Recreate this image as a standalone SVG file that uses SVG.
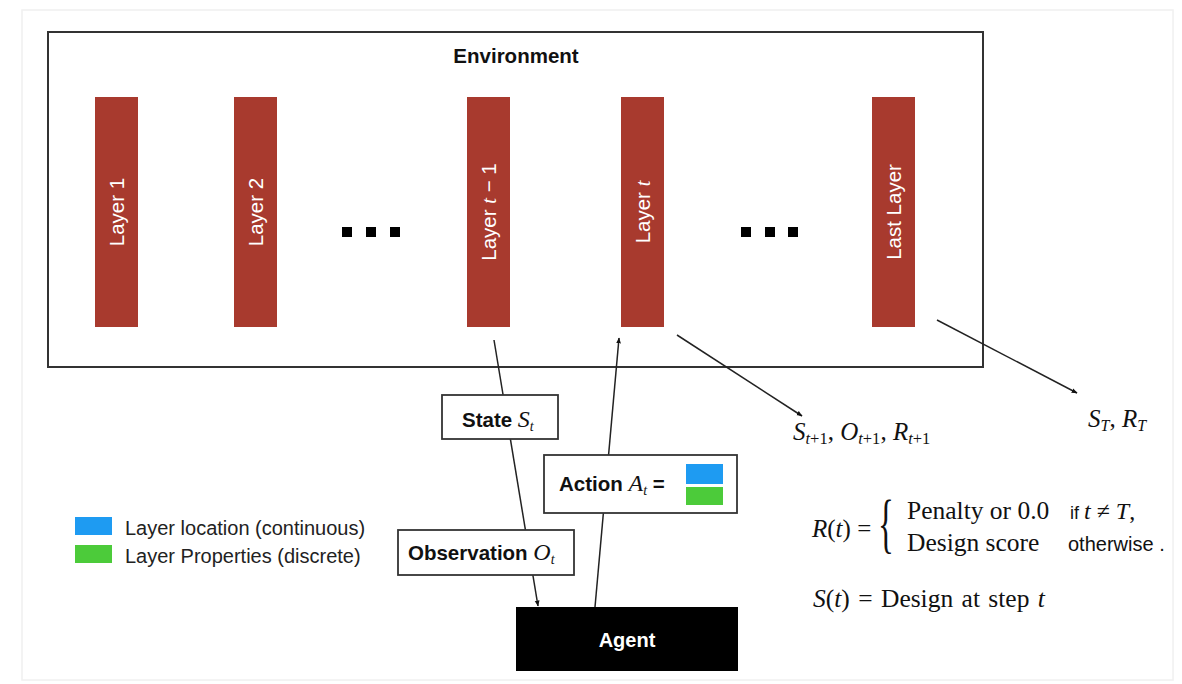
<svg xmlns="http://www.w3.org/2000/svg" width="1182" height="684" viewBox="0 0 1182 684">
<defs>
<style>
.sans{font-family:"Liberation Sans",Arial,sans-serif}
.serif{font-family:"Liberation Serif","Times New Roman",serif}
.b{font-weight:bold}
.it{font-style:italic}
.bar{fill:#a83a2e}
.lt{font-family:"Liberation Sans",Arial,sans-serif;font-size:20.5px;fill:#fff;text-anchor:middle}
.box{fill:#fff;stroke:#333;stroke-width:1.8}
.conn{stroke:#222;stroke-width:1.5;fill:none;marker-end:url(#ah)}
.dot{fill:#000}
</style>
<marker id="ah" viewBox="0 0 10 10" refX="9" refY="5" markerWidth="6" markerHeight="6" markerUnits="userSpaceOnUse" orient="auto">
<path d="M0,1 L10,5 L0,9 z" fill="#111"/>
</marker>
</defs>
<rect x="0" y="0" width="1182" height="684" fill="#fff"/>
<rect x="22" y="10" width="1151" height="670" fill="none" stroke="#f0f0f0" stroke-width="1.5"/>

<g id="environment">
<rect x="48" y="32" width="935" height="335" fill="#fff" stroke="#333" stroke-width="2"/>
<text x="516" y="63" text-anchor="middle" class="sans b" font-size="20.5" fill="#111">Environment</text>
</g>

<g id="layer1">
<rect class="bar" x="95" y="97" width="43" height="230"/>
<text class="lt" transform="translate(123.5,212) rotate(-90)">Layer 1</text>
</g>
<g id="layer2">
<rect class="bar" x="234" y="97" width="43" height="230"/>
<text class="lt" transform="translate(262.5,212) rotate(-90)">Layer 2</text>
</g>
<g id="dots1">
<rect class="dot" x="342" y="227" width="10" height="10"/>
<rect class="dot" x="366" y="227" width="10" height="10"/>
<rect class="dot" x="390" y="227" width="10" height="10"/>
</g>
<g id="layer-t-minus-1">
<rect class="bar" x="467" y="97" width="43" height="230"/>
<text class="lt" transform="translate(495.5,212) rotate(-90)">Layer <tspan class="serif it">t</tspan> − 1</text>
</g>
<g id="layer-t">
<rect class="bar" x="621" y="97" width="43" height="230"/>
<text class="lt" transform="translate(649.5,212) rotate(-90)">Layer <tspan class="serif it">t</tspan></text>
</g>
<g id="dots2">
<rect class="dot" x="741" y="227" width="10" height="10"/>
<rect class="dot" x="765" y="227" width="10" height="10"/>
<rect class="dot" x="788" y="227" width="10" height="10"/>
</g>
<g id="last-layer">
<rect class="bar" x="872" y="97" width="43" height="230"/>
<text class="lt" transform="translate(900.5,212) rotate(-90)">Last Layer</text>
</g>

<g id="connectors">
<line class="conn" x1="494" y1="340" x2="538" y2="606"/>
<line class="conn" x1="595" y1="607" x2="619" y2="338"/>
<line class="conn" x1="677" y1="335" x2="802" y2="416"/>
<line class="conn" x1="937" y1="320" x2="1077" y2="393"/>
</g>

<g id="state">
<rect class="box" x="442" y="395" width="116" height="44"/>
<text x="462" y="427" class="sans b" font-size="20.5" fill="#111">State <tspan class="serif it" font-weight="normal" font-size="24">S</tspan><tspan class="serif it" font-weight="normal" font-size="14" dy="4">t</tspan></text>
</g>

<g id="action">
<rect class="box" x="544" y="455" width="193" height="58"/>
<text x="559" y="491" class="sans b" font-size="20.5" fill="#111">Action <tspan class="serif it" font-weight="normal" font-size="24">A</tspan><tspan class="serif it" font-weight="normal" font-size="14" dy="4">t</tspan><tspan dy="-4"> =</tspan></text>
<rect x="686" y="464" width="37" height="20" fill="#1e9bf2"/>
<rect x="686" y="487" width="37" height="18" fill="#4ccb3a"/>
</g>

<g id="observation">
<rect class="box" x="398" y="530" width="176" height="45"/>
<text x="408" y="560" class="sans b" font-size="20.5" fill="#111">Observation <tspan class="serif it" font-weight="normal" font-size="24">O</tspan><tspan class="serif it" font-weight="normal" font-size="14" dy="4">t</tspan></text>
</g>

<g id="agent">
<rect x="516" y="607" width="222" height="64" fill="#000"/>
<text x="627" y="647" text-anchor="middle" class="sans b" font-size="20" fill="#fff">Agent</text>
</g>

<g id="legend">
<rect x="75" y="517" width="37" height="18" fill="#1e9bf2"/>
<rect x="75" y="545" width="37" height="18" fill="#4ccb3a"/>
<text x="125" y="535" class="sans" font-size="20" fill="#222">Layer location (continuous)</text>
<text x="125" y="563" class="sans" font-size="20" fill="#222">Layer Properties (discrete)</text>
</g>

<g id="next-state-label">
<text x="793" y="440" class="serif" font-size="25" fill="#111"><tspan class="it">S</tspan><tspan font-size="16.5" dy="4"><tspan class="it">t</tspan>+1</tspan><tspan dy="-4">, </tspan><tspan class="it">O</tspan><tspan font-size="16.5" dy="4"><tspan class="it">t</tspan>+1</tspan><tspan dy="-4">, </tspan><tspan class="it">R</tspan><tspan font-size="16.5" dy="4"><tspan class="it">t</tspan>+1</tspan></text>
</g>

<g id="final-label">
<text x="1088" y="427" class="serif" font-size="25" fill="#111"><tspan class="it">S</tspan><tspan class="it" font-size="16" dy="4">T</tspan><tspan dy="-4">, </tspan><tspan class="it">R</tspan><tspan class="it" font-size="16" dy="4">T</tspan></text>
</g>

<g id="reward-formula">
<text x="812" y="537" class="serif" font-size="25" fill="#111"><tspan class="it">R</tspan>(<tspan class="it">t</tspan>) =</text>
<text class="serif" font-size="66" fill="#111" transform="translate(878,545) scale(0.5,1)">{</text>
<text x="907" y="519" class="serif" font-size="25.5" fill="#111">Penalty or 0.0</text>
<text x="1070" y="519" class="sans" font-size="18" fill="#111">if <tspan class="serif it" font-size="24">t</tspan><tspan class="serif" font-size="24"> ≠ </tspan><tspan class="serif it" font-size="24">T</tspan><tspan class="serif" font-size="24">,</tspan></text>
<text x="907" y="551" class="serif" font-size="25.5" fill="#111">Design score</text>
<text x="1068" y="551" class="sans" font-size="20" fill="#111">otherwise .</text>
</g>

<g id="state-formula">
<text x="813" y="607" class="serif" font-size="25.5" fill="#111" word-spacing="2"><tspan class="it">S</tspan>(<tspan class="it">t</tspan>) = Design at step <tspan class="it">t</tspan></text>
</g>
</svg>
